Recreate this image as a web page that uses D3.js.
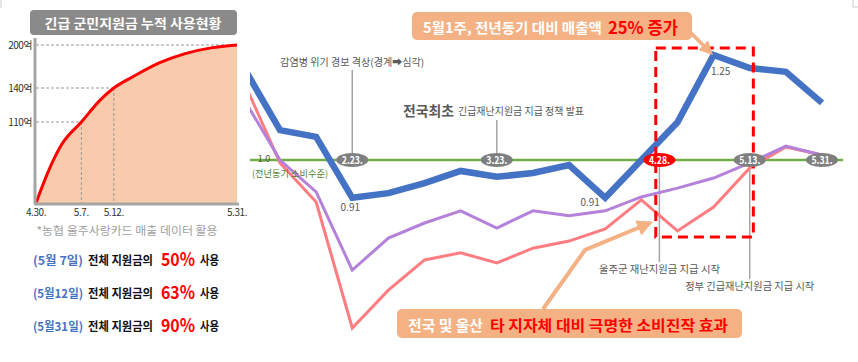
<!DOCTYPE html>
<html>
<head>
<meta charset="utf-8">
<script src="https://cdn.jsdelivr.net/npm/d3@7"></script>
<style>
  body { margin: 0; background: #fff; }
  text { font-family: "Noto Sans CJK KR", "Noto Sans", sans-serif; }
</style>
</head>
<body>
<div id="chart"></div>
<script>
// ---- left panel data (누적 사용액, 억원) ----
var usageDays = [0, 2, 4, 7, 10, 12, 15, 19, 23, 27, 31]; // days after 4.30.
var usageValues = [0, 45, 80, 110, 130, 140, 156, 175, 188, 196, 200];
var usageTickDays = [0, 7, 12, 31];
var usageTickLabels = ["4.30.", "5.7.", "5.12.", "5.31."];
var usageLevels = [110, 140, 200];
var usageLevelLabels = ["110억", "140억", "200억"];

var summaryDates = ["(5월 7일)", "(5월12일)", "(5월31일)"];
var summaryPct = ["50%", "63%", "90%"];

// ---- right panel data (전년동기 대비 매출 비율) ----
var weekIndex = [-1, 0, 1, 2, 3, 4, 5, 6, 7, 8, 9, 10, 11, 12, 13, 14, 15];
var uljuSales = [1.22, 1.071, 1.055, 0.91, 0.921, 0.945, 0.974, 0.96, 0.969, 0.988, 0.91, 1.0, 1.09, 1.25, 1.219, 1.21, 1.136];
var ulsanSales = [1.145, 1.0, 0.924, 0.738, 0.814, 0.85, 0.879, 0.838, 0.879, 0.867, 0.879, 0.912, 0.933, 0.957, 0.993, 1.033, 1.012];
var nationSales = [1.186, 0.993, 0.9, 0.6, 0.69, 0.762, 0.779, 0.755, 0.79, 0.807, 0.836, 0.905, 0.831, 0.888, 0.981, 1.031, 1.012];
var eventLabels = ["2.23.", "3.23.", "4.28.", "5.13.", "5.31."];
var eventWeeks = [2, 6, 10.5, 13, 15];

var svg = d3.select("#chart").append("svg")
    .attr("width", 858)
    .attr("height", 362);

var defs = svg.append("defs");

// ================= left panel =================
var lx = d3.scaleLinear().domain([0, 31]).range([36, 237]);
// the picture spaces the levels unevenly, so the y scale is piecewise
var ly = d3.scaleLinear().domain([0, 110, 140, 200]).range([203, 122, 88, 45]);

svg.append("rect")
    .attr("x", 30).attr("y", 10)
    .attr("width", 207).attr("height", 25)
    .attr("rx", 4)
    .style("fill", "#8a8a8a");
svg.append("text")
    .attr("x", 133).attr("y", 28)
    .attr("text-anchor", "middle")
    .attr("textLength", 177)
    .attr("lengthAdjust", "spacingAndGlyphs")
    .style("font-size", "13px").style("font-weight", "bold")
    .style("fill", "#fff")
    .text("긴급 군민지원금 누적 사용현황");

var usagePts = usageDays.map(function(d, i) { return [d, usageValues[i]]; });

svg.append("path")
    .datum(usagePts)
    .attr("d", d3.area()
        .x(function(d) { return lx(d[0]); })
        .y0(ly(0))
        .y1(function(d) { return ly(d[1]); })
        .curve(d3.curveMonotoneX))
    .style("fill", "#f8cbad");

// dashed guides to the curve
for (i = 0; i < usageLevels.length; i++) {
  var gx = i < 2 ? lx(usageTickDays[i + 1]) : lx(31);
  svg.append("line")
      .attr("x1", lx(0)).attr("x2", gx)
      .attr("y1", ly(usageLevels[i])).attr("y2", ly(usageLevels[i]))
      .style("stroke", "#999").style("stroke-dasharray", "3,2");
  if (i < 2) {
    svg.append("line")
        .attr("x1", gx).attr("x2", gx)
        .attr("y1", ly(usageLevels[i])).attr("y2", ly(0))
        .style("stroke", "#999").style("stroke-dasharray", "3,2");
  }
  svg.append("text")
      .attr("x", 32).attr("y", ly(usageLevels[i]) + 4)
      .attr("text-anchor", "end")
      .style("font-size", "10px").style("letter-spacing", "-0.5px")
      .style("fill", "#333")
      .text(usageLevelLabels[i]);
}

svg.append("path")
    .datum(usagePts)
    .attr("d", d3.line()
        .x(function(d) { return lx(d[0]); })
        .y(function(d) { return ly(d[1]); })
        .curve(d3.curveMonotoneX))
    .style("fill", "none")
    .style("stroke", "#ff0000")
    .style("stroke-width", 3);

// axes bars
svg.append("line").attr("x1", 35).attr("x2", 35).attr("y1", 38).attr("y2", 204)
    .style("stroke", "#a6a6a6").style("stroke-width", 3);
svg.append("line").attr("x1", 34).attr("x2", 239).attr("y1", 204).attr("y2", 204)
    .style("stroke", "#a6a6a6").style("stroke-width", 3);

for (i = 0; i < usageTickDays.length; i++) {
  svg.append("text")
      .attr("x", lx(usageTickDays[i])).attr("y", 216)
      .attr("text-anchor", "middle")
      .style("font-size", "10px").style("letter-spacing", "-0.4px")
      .style("fill", "#333")
      .text(usageTickLabels[i]);
}

svg.append("text")
    .attr("x", 127).attr("y", 235)
    .attr("text-anchor", "middle")
    .attr("textLength", 181)
    .attr("lengthAdjust", "spacingAndGlyphs")
    .style("font-size", "11.5px")
    .style("fill", "#a0a0a0")
    .text("*농협 울주사랑카드 매출 데이터 활용");

for (i = 0; i < summaryDates.length; i++) {
  var ry = 265 + i * 33;
  svg.append("text").attr("x", 33).attr("y", ry)
      .attr("textLength", 50).attr("lengthAdjust", "spacingAndGlyphs")
      .style("font-size", "12px").style("font-weight", "bold").style("fill", "#4472c4")
      .text(summaryDates[i]);
  svg.append("text").attr("x", 88).attr("y", ry)
      .attr("textLength", 65).attr("lengthAdjust", "spacingAndGlyphs")
      .style("font-size", "12px").style("font-weight", "bold").style("fill", "#111")
      .text("전체  지원금의");
  svg.append("text").attr("x", 161).attr("y", ry + 1)
      .attr("textLength", 34).attr("lengthAdjust", "spacingAndGlyphs")
      .style("font-size", "18px").style("font-weight", "bold").style("fill", "#ff0000")
      .text(summaryPct[i]);
  svg.append("text").attr("x", 200).attr("y", ry)
      .attr("textLength", 19).attr("lengthAdjust", "spacingAndGlyphs")
      .style("font-size", "12px").style("font-weight", "bold").style("fill", "#111")
      .text("사용");
}

// ================= right panel =================
var x = d3.scaleLinear().domain([0, 15]).range([280, 822]);
var y = d3.scaleLinear().domain([1.0, 1.25]).range([160, 55]);

defs.append("clipPath").attr("id", "clip")
    .append("rect").attr("x", 250).attr("y", 0).attr("width", 608).attr("height", 362);

defs.append("marker")
    .attr("id", "arrow")
    .attr("viewBox", "0 0 10 10")
    .attr("refX", 8).attr("refY", 5)
    .attr("markerWidth", 4).attr("markerHeight", 4)
    .attr("orient", "auto")
    .append("path").attr("d", "M0,0 L10,5 L0,10 z")
    .style("fill", "#f4b183");

var plot = svg.append("g").attr("clip-path", "url(#clip)");

// event leader lines
var leaders = [[2, 70, 153], [6, 120, 153], [10.5, 167, 262], [13, 167, 279]];
for (i = 0; i < leaders.length; i++) {
  plot.append("line")
      .attr("x1", x(leaders[i][0])).attr("x2", x(leaders[i][0]))
      .attr("y1", leaders[i][1]).attr("y2", leaders[i][2])
      .style("stroke", "#a6a6a6").style("stroke-width", 1.5);
}

// 1.0 baseline
plot.append("line")
    .attr("x1", 250).attr("x2", 843)
    .attr("y1", y(1)).attr("y2", y(1))
    .style("stroke", "#70ad47").style("stroke-width", 2.5);

var series = [
  { values: nationSales, color: "#ff7c80", width: 3 },
  { values: ulsanSales, color: "#b482da", width: 3 },
  { values: uljuSales, color: "#4472c4", width: 6.5 }
];

var line = d3.line()
    .x(function(d) { return x(d[0]); })
    .y(function(d) { return y(d[1]); });

series.forEach(function(s) {
  plot.append("path")
      .datum(weekIndex.map(function(w, i) { return [w, s.values[i]]; }))
      .attr("d", line)
      .style("fill", "none")
      .style("stroke", s.color)
      .style("stroke-width", s.width);
});

// red dashed highlight box
plot.append("rect")
    .attr("x", x(10.4)).attr("y", 48)
    .attr("width", x(13.1) - x(10.4)).attr("height", 189)
    .style("fill", "none")
    .style("stroke", "#ff0000").style("stroke-width", 3)
    .style("stroke-dasharray", "10,6");

// event ellipses
for (i = 0; i < eventLabels.length; i++) {
  plot.append("ellipse")
      .attr("cx", x(eventWeeks[i])).attr("cy", y(1))
      .attr("rx", 16).attr("ry", 7)
      .style("fill", eventLabels[i] == "4.28." ? "#ff0000" : "#7f7f7f");
  plot.append("text")
      .attr("x", x(eventWeeks[i])).attr("y", y(1) + 3.5)
      .attr("text-anchor", "middle")
      .attr("textLength", 21).attr("lengthAdjust", "spacingAndGlyphs")
      .style("font-size", "10px").style("font-weight", "bold")
      .style("fill", "#fff")
      .text(eventLabels[i]);
}

// value labels
var valueLabels = [[2, 0.91, 13, "0.91"], [9, 0.91, 8, "0.91"], [12, 1.25, 20, "1.25"]];
var valueDx = [-2, -15, 7];
for (i = 0; i < valueLabels.length; i++) {
  plot.append("text")
      .attr("x", x(valueLabels[i][0]) + valueDx[i])
      .attr("y", y(valueLabels[i][1]) + valueLabels[i][2])
      .attr("text-anchor", "middle")
      .style("font-size", "10px")
      .style("fill", "#595959")
      .text(valueLabels[i][3]);
}

plot.append("text").attr("x", 264).attr("y", 162)
    .attr("text-anchor", "middle")
    .style("font-size", "9px").style("fill", "#4f6228")
    .text("1.0");
plot.append("text").attr("x", 252).attr("y", 177)
    .attr("textLength", 76).attr("lengthAdjust", "spacingAndGlyphs")
    .style("font-size", "9.5px").style("fill", "#548235")
    .text("(전년동기 소비수준)");

// annotation texts
svg.append("text").attr("x", x(2)).attr("y", 66)
    .attr("text-anchor", "middle")
    .attr("textLength", 144).attr("lengthAdjust", "spacingAndGlyphs")
    .style("font-size", "10px").style("fill", "#595959")
    .text("감염병 위기 경보 격상(경계➡심각)");
svg.append("text").attr("x", 403).attr("y", 116)
    .attr("textLength", 51).attr("lengthAdjust", "spacingAndGlyphs")
    .style("font-size", "14px").style("font-weight", "bold").style("fill", "#595959")
    .text("전국최초");
svg.append("text").attr("x", 458).attr("y", 115)
    .attr("textLength", 126).attr("lengthAdjust", "spacingAndGlyphs")
    .style("font-size", "10px").style("fill", "#595959")
    .text("긴급재난지원금 지급 정책 발표");
svg.append("text").attr("x", x(10.5)).attr("y", 273)
    .attr("text-anchor", "middle")
    .attr("textLength", 121).attr("lengthAdjust", "spacingAndGlyphs")
    .style("font-size", "10px").style("fill", "#595959")
    .text("울주군 재난지원금 지급 시작");
svg.append("text").attr("x", x(13)).attr("y", 290)
    .attr("text-anchor", "middle")
    .attr("textLength", 129).attr("lengthAdjust", "spacingAndGlyphs")
    .style("font-size", "10px").style("fill", "#595959")
    .text("정부 긴급재난지원금 지급 시작");

// top callout
svg.append("line")
    .attr("x1", 688).attr("y1", 30).attr("x2", 711).attr("y2", 53)
    .style("stroke", "#f4b183").style("stroke-width", 3.5)
    .attr("marker-end", "url(#arrow)");
svg.append("rect")
    .attr("x", 412).attr("y", 12).attr("width", 280).attr("height", 28).attr("rx", 5)
    .style("fill", "#f4b183");
svg.append("text").attr("x", 423).attr("y", 33)
    .attr("textLength", 179).attr("lengthAdjust", "spacingAndGlyphs")
    .style("font-size", "14px").style("font-weight", "bold").style("fill", "#fff")
    .text("5월1주, 전년동기 대비 매출액");
svg.append("text").attr("x", 608).attr("y", 34)
    .attr("textLength", 70).attr("lengthAdjust", "spacingAndGlyphs")
    .style("font-size", "17px").style("font-weight", "bold").style("fill", "#ff0000")
    .text("25% 증가");

// bottom callout
svg.append("path")
    .attr("d", "M543,309 L585,250 L650,223")
    .style("fill", "none")
    .style("stroke", "#f4b183").style("stroke-width", 4)
    .attr("marker-end", "url(#arrow)");
svg.append("rect")
    .attr("x", 397).attr("y", 309).attr("width", 345).attr("height", 29).attr("rx", 5)
    .style("fill", "#f4b183");
svg.append("text").attr("x", 408).attr("y", 331)
    .attr("textLength", 75).attr("lengthAdjust", "spacingAndGlyphs")
    .style("font-size", "15px").style("font-weight", "bold").style("fill", "#fff")
    .text("전국 및 울산");
svg.append("text").attr("x", 490).attr("y", 331)
    .attr("textLength", 238).attr("lengthAdjust", "spacingAndGlyphs")
    .style("font-size", "15px").style("font-weight", "bold").style("fill", "#ff0000")
    .text("타 지자체 대비 극명한 소비진작 효과");

// little corner marks from the slide edge
svg.append("path").attr("d", "M1,0 L1,8").style("stroke", "#ccc").style("fill", "none");
svg.append("path").attr("d", "M853,0 L853,7 L858,7").style("stroke", "#ccc").style("fill", "none");
</script>
</body>
</html>
